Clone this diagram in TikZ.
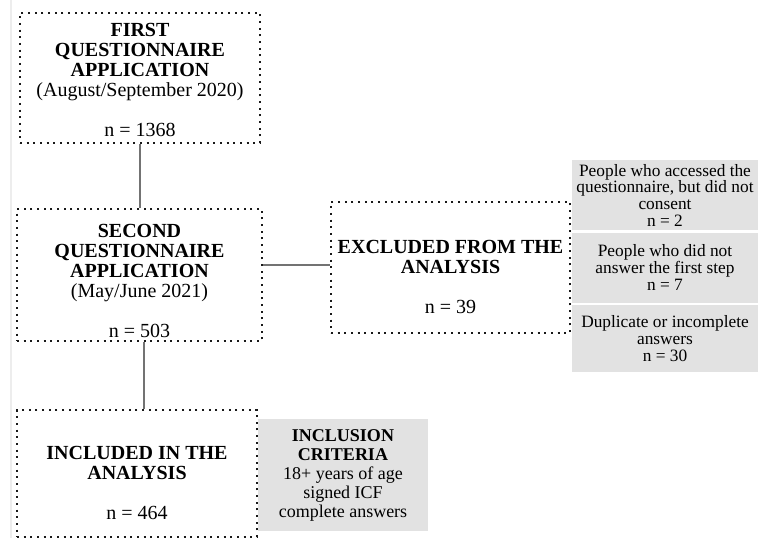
\documentclass[tikz,border=0pt]{standalone}
\usepackage{fontspec}
\setmainfont{Liberation Serif}
\usetikzlibrary{positioning}
\definecolor{boxgray}{RGB}{226,226,226}
\definecolor{linegray}{RGB}{115,115,115}

\begin{document}
\begin{tikzpicture}[x=0.75pt,y=0.75pt,yscale=-1,xscale=1,
	dotbox/.style={draw=black!90, line width=1.4pt, dash pattern=on 1.4pt off 3.6pt, inner sep=0pt},
	maintext/.style={align=center, inner sep=0pt, font=\fontsize{15}{15}\selectfont},
	graybox/.style={fill=boxgray, inner sep=0pt, align=center, minimum width=139.5pt, font=\fontsize{13}{12.5}\selectfont},
	link/.style={draw=linegray, line width=1pt}]
			%set diagram size
			\useasboundingbox (0,0) rectangle (763,538);
			%page edge
			\draw [color=black!7, line width=0.8pt] (11,0) -- (11,538);
			
			%Dotted boxes
			\node [dotbox, minimum width=180pt, minimum height=97.5pt] (first) at (140,78) {};
			\node [dotbox, minimum width=183.75pt, minimum height=99pt] (second) at (139.5,275) {};
			\node [dotbox, minimum width=179.25pt, minimum height=98.25pt] (excluded) at (450.5,267.5) {};
			\node [dotbox, minimum width=180pt, minimum height=95.25pt] (included) at (137,473.5) {};
			
			% Text Node
			\node [maintext] (firsttext) at (140,80) {\textbf{FIRST}\\\textbf{QUESTIONNAIRE}\\\textbf{APPLICATION}\\(August/September 2020)\\[15pt]n = 1368};
			% Text Node
			\node [maintext] (secondtext) at (139.5,281) {\textbf{SECOND}\\\textbf{QUESTIONNAIRE}\\\textbf{APPLICATION}\\(May/June 2021)\\[15pt]n = 503};
			% Text Node
			\node [maintext] (excludedtext) at (450.5,277) {\textbf{EXCLUDED FROM THE}\\\textbf{ANALYSIS}\\[15pt]n = 39};
			% Text Node
			\node [maintext] (includedtext) at (137,483) {\textbf{INCLUDED IN THE}\\\textbf{ANALYSIS}\\[15pt]n = 464};
			
			%Gray boxes
			\node [graybox, minimum height=52.5pt] (consent) at (665,195) {People who accessed the\\questionnaire, but did not\\consent\\n = 2};
			\node [graybox, minimum height=52.5pt, below=1.5pt of consent] (firststep) {People who did not\\answer the first step\\n = 7};
			\node [graybox, minimum height=50.25pt, below=1.5pt of firststep] (duplicate) {Duplicate or incomplete\\answers\\n = 30};
			\node [graybox, minimum width=127.5pt, minimum height=84pt, font=\fontsize{13.5}{14.25}\selectfont] (criteria) at (343,475) {\textbf{INCLUSION}\\\textbf{CRITERIA}\\18+ years of age\\signed ICF\\complete answers};
			
			%Straight Lines
			\draw [link] (first.south) -- (first.south |- second.north);
			\draw [link] ([yshift=-1.9pt]excluded.west) -- ([yshift=-1.9pt]excluded.west -| second.east);
			\draw [link] ([xshift=3.4pt]second.south) -- ([xshift=3.4pt]second.south |- included.north);
			
\end{tikzpicture}
\end{document}
